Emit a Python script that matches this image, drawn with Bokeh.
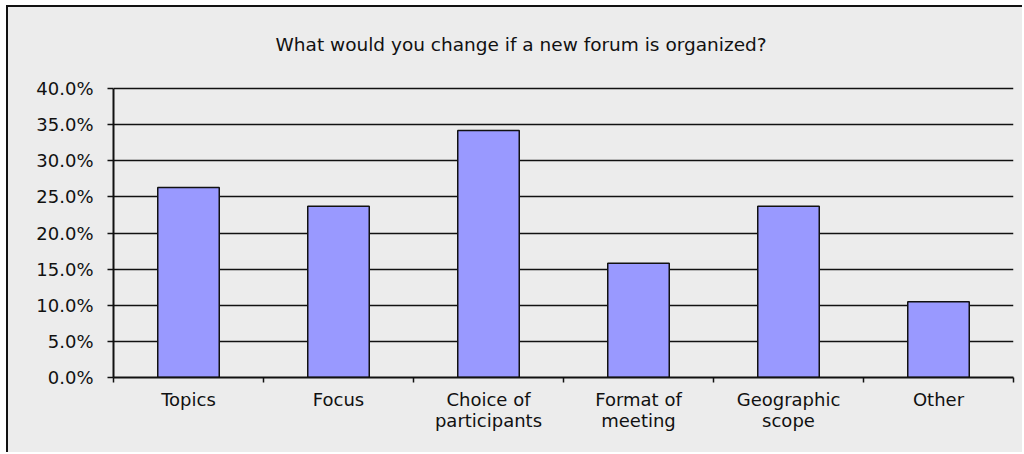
from bokeh.plotting import figure
from bokeh.models import FixedTicker, NumeralTickFormatter, Range1d, Label, ColumnDataSource
from bokeh.embed import file_html
from bokeh.resources import INLINE

categories = ["Topics", "Focus", "Choice of\nparticipants", "Format of\nmeeting", "Geographic\nscope", "Other"]
values = [0.263, 0.237, 0.342, 0.158, 0.237, 0.105]
y_ticks = [0.0, 0.05, 0.10, 0.15, 0.20, 0.25, 0.30, 0.35, 0.40]
title_text = "What would you change if a new forum is organized?"

FONT = "DejaVu Sans"
BG = "#ECECEC"
PX_PER_UNIT = 722.5  # 40% spans 289 px
FRAME_H = 360

positions = [i + 0.5 for i in range(len(categories))]
src = ColumnDataSource(dict(x=positions, top=values))

p = figure(
    width=1014, height=445,
    frame_width=900, frame_height=FRAME_H,
    min_border_left=105, min_border_right=9, min_border_top=10, min_border_bottom=75,
    x_range=Range1d(0, len(categories)), y_range=Range1d(0, FRAME_H / PX_PER_UNIT),
    output_backend="svg", toolbar_location=None,
    background_fill_color=None, border_fill_color=BG,
)
p.outline_line_color = None
p.styles = {"border-left": "2px solid #111", "border-top": "2px solid #111",
            "margin-left": "6px", "margin-top": "5px", "background-color": BG}

p.vbar(x="x", top="top", width=0.41, source=src,
       fill_color="#9999FF", line_color="#111111", line_width=1.5)

# y axis
p.yaxis.bounds = (0, 0.40)
p.yaxis.ticker = FixedTicker(ticks=y_ticks)
p.yaxis.formatter = NumeralTickFormatter(format="0.0%")
p.yaxis.axis_line_color = "#111111"
p.yaxis.axis_line_width = 2
p.yaxis.major_tick_line_color = "#111111"
p.yaxis.major_tick_line_width = 1.5
p.yaxis.major_tick_out = 6
p.yaxis.major_tick_in = 0
p.yaxis.minor_tick_line_color = None
p.yaxis.major_label_standoff = 14
p.yaxis.major_label_text_font = FONT
p.yaxis.major_label_text_font_size = "18px"
p.yaxis.major_label_text_color = "#111111"

# x axis
p.xaxis.ticker = FixedTicker(ticks=positions, minor_ticks=list(range(len(categories) + 1)))
p.xaxis.major_label_overrides = {pos: lab for pos, lab in zip(positions, categories)}
p.xaxis.axis_line_color = "#111111"
p.xaxis.axis_line_width = 2
p.xaxis.major_tick_line_color = None
p.xaxis.minor_tick_line_color = "#111111"
p.xaxis.minor_tick_line_width = 1.5
p.xaxis.minor_tick_out = 5
p.xaxis.minor_tick_in = 0
p.xaxis.major_label_standoff = 5
p.xaxis.major_label_text_font = FONT
p.xaxis.major_label_text_font_size = "18px"
p.xaxis.major_label_text_line_height = 1.0
p.xaxis.major_label_text_color = "#111111"

# grid
p.xgrid.grid_line_color = None
p.ygrid.ticker = FixedTicker(ticks=y_ticks)
p.ygrid.grid_line_color = "#111111"
p.ygrid.grid_line_width = 1.5

# title (inside the taller frame, above the 40% line)
p.add_layout(Label(x=2.717, y=0.4609, text=title_text, text_align="center",
                   text_baseline="alphabetic", text_font=FONT,
                   text_font_size="18.5px", text_color="#111111"))

open("out.html", "w").write(file_html(p, INLINE))
